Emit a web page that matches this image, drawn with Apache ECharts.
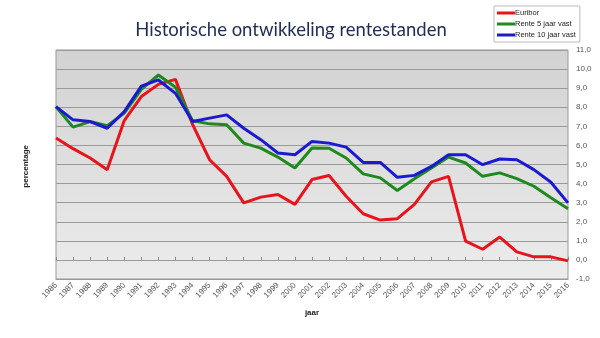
<!DOCTYPE html>
<html><head><meta charset="utf-8">
<script src="https://cdn.jsdelivr.net/npm/echarts@6/dist/echarts.min.js"></script>
<style>html,body{margin:0;padding:0;background:#fff}#c{width:600px;height:338px}</style>
</head><body><div id="c"></div>
<script>
const years = ['1986','1987','1988','1989','1990','1991','1992','1993','1994','1995','1996','1997','1998','1999','2000','2001','2002','2003','2004','2005','2006','2007','2008','2009','2010','2011','2012','2013','2014','2015','2016'];
const euribor = [6.39,5.83,5.34,4.73,7.30,8.56,9.20,9.46,7.10,5.25,4.38,2.99,3.29,3.43,2.91,4.21,4.42,3.34,2.42,2.09,2.16,2.91,4.09,4.38,0.99,0.56,1.20,0.42,0.16,0.16,-0.05];
const rente5 = [8.03,6.96,7.25,7.03,7.69,8.94,9.69,9.05,7.29,7.13,7.08,6.12,5.86,5.39,4.82,5.86,5.85,5.34,4.51,4.30,3.64,4.25,4.82,5.39,5.08,4.38,4.56,4.26,3.86,3.26,2.68];
const rente10 = [8.03,7.34,7.25,6.90,7.77,9.11,9.43,8.73,7.25,7.43,7.60,6.90,6.30,5.60,5.51,6.21,6.12,5.91,5.11,5.11,4.33,4.43,4.90,5.51,5.51,4.99,5.29,5.25,4.73,4.07,2.99];
const seriesNames = ['Euribor','Rente 5 jaar vast','Rente 10 jaar vast'];
const colors = ['#e8141c','#1e8a1e','#1a1ad0'];

const chart = echarts.init(document.getElementById('c'));
const mk = (name, data, color) => ({
  name, type:'line', data, symbol:'none', smooth:false,
  lineStyle:{color, width:3}, itemStyle:{color}
});
chart.setOption({
  animation:false,
  title:{text:'Historische ontwikkeling rentestanden', left:286, top:16, textAlign:'center',
    textStyle:{fontFamily:'Lato', fontSize:18.5, fontWeight:'normal', color:'#1f2d55'}},
  legend:{orient:'vertical', left:494, top:6, padding:[3,4,3,3], itemGap:3,
    borderColor:'#bbb', borderWidth:1, backgroundColor:'#fff',
    itemWidth:18, itemHeight:3, icon:'rect',
    textStyle:{fontFamily:'Liberation Sans', fontSize:7.5, color:'#222', padding:[0,0,0,-5]},
    data:seriesNames},
  grid:{left:56, right:32, top:50, bottom:59, show:true, borderColor:'#999', borderWidth:1,
    backgroundColor:{type:'linear',x:0,y:0,x2:0,y2:1,colorStops:[{offset:0,color:'#d2d2d2'},{offset:1,color:'#ececec'}]}},
  xAxis:[{type:'category', data:years, boundaryGap:false,
    name:'jaar', nameLocation:'middle', nameGap:30,
    nameTextStyle:{fontFamily:'Liberation Sans', fontSize:8, fontWeight:'bold', color:'#222'},
    axisLine:{onZero:false, lineStyle:{color:'#999'}}, axisTick:{show:false},
    axisLabel:{rotate:45, fontFamily:'Liberation Sans', fontSize:8, color:'#555', interval:0, margin:5},
    splitLine:{show:false}},
   {type:'category', data:years, boundaryGap:false, position:'bottom',
    axisLine:{show:true, onZero:true, lineStyle:{color:'#9a9a9a'}},
    axisTick:{show:true, inside:true, length:3, interval:0, lineStyle:{color:'#888'}},
    axisLabel:{show:false}, splitLine:{show:false}}],
  yAxis:{type:'value', position:'right', min:-1, max:11, interval:1,
    axisLine:{show:false}, axisTick:{show:false},
    axisLabel:{fontFamily:'Liberation Sans', fontSize:8, color:'#555', margin:8,
      formatter:v=>v.toFixed(1).replace('.',',')},
    splitLine:{lineStyle:{color:'#9a9a9a', width:1}}},
  graphic:[{type:'text', left:22, top:145, rotation:Math.PI/2,
    style:{text:'percentage', fontFamily:'Liberation Sans', fontSize:8, fontWeight:'bold', fill:'#222'}}],
  series:[mk(seriesNames[0], euribor, colors[0]), mk(seriesNames[1], rente5, colors[1]), mk(seriesNames[2], rente10, colors[2])]
});
</script></body></html>
